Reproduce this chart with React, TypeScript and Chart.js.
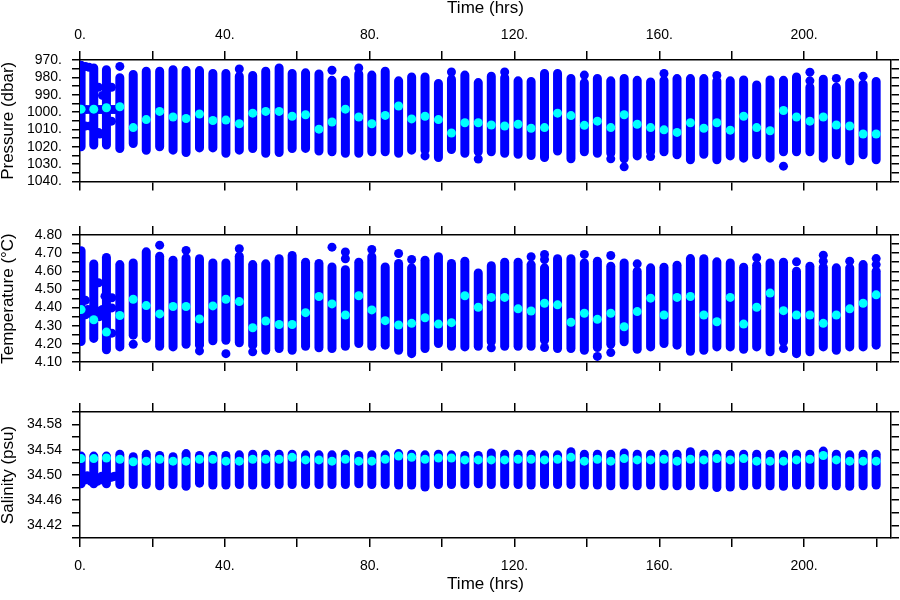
import React, { useEffect, useRef } from "react";
import { Chart, registerables } from "chart.js";

Chart.register(...registerables);

const FONT = "'Liberation Sans', Arial, sans-serif";
const BLUE = "#0000FF";
const CYAN = "#00FFFF";

// ---- time axis ----
const xMax = 224;
const xTicks = [0, 20, 40, 60, 80, 100, 120, 140, 160, 180, 200, 220];
const xTickLabels = [0, 40, 80, 120, 160, 200];

// profile times (hrs)
const times = [
  0.3, 3.8, 7.3,
  11.0, 14.7, 18.3, 22.0, 25.7, 29.3, 33.0, 36.7, 40.3, 44.0,
  47.7, 51.3, 55.0, 58.6, 62.3, 66.0, 69.6, 73.3, 77.0, 80.6,
  84.3, 88.0, 91.6, 95.3, 99.0, 102.6, 106.3, 110.0, 113.6, 117.3,
  121.0, 124.6, 128.3, 131.9, 135.6, 139.3, 142.9, 146.6, 150.3, 153.9,
  157.6, 161.3, 164.9, 168.6, 172.3, 175.9, 179.6, 183.3, 186.9, 190.6,
  194.3, 197.9, 201.6, 205.3, 208.9, 212.6, 216.3, 219.9,
];

// ---- pressure (dbar) ----
const pressureTicks = [970, 975, 980, 985, 990, 995, 1000, 1005, 1010, 1015, 1020, 1025, 1030, 1035, 1040];
const pressureTickLabels = [970, 980, 990, 1000, 1010, 1020, 1030, 1040];
const pressureTop = [
  973.0, 974.6, 975.6,
  980.2, 978.3, 976.5, 976.5, 975.6, 976.1, 976.1, 977.8, 977.8, 979.3,
  978.9, 976.5, 974.6, 977.8, 977.4, 978.0, 981.7, 981.7, 978.0, 978.7,
  976.5, 982.0, 979.8, 979.8, 983.5, 981.1, 978.7, 983.0, 979.3, 980.2,
  982.0, 982.4, 977.8, 977.8, 980.6, 983.1, 980.6, 982.0, 980.6, 981.7,
  982.6, 981.7, 980.7, 980.7, 980.7, 982.0, 982.0, 981.5, 984.4, 981.5,
  981.7, 979.8, 985.7, 981.1, 985.7, 983.0, 983.9, 982.4,
];
const pressureBottom = [
  1020.0, 1019.0, 1019.0,
  1021.0, 1018.1, 1022.0, 1020.0, 1021.9, 1023.3, 1020.6, 1020.6, 1023.7, 1021.9,
  1021.0, 1023.7, 1023.3, 1021.0, 1020.9, 1022.4, 1022.8, 1023.7, 1023.7, 1022.8,
  1022.8, 1023.7, 1021.9, 1021.9, 1026.1, 1021.5, 1023.7, 1022.8, 1022.8, 1023.7,
  1024.3, 1025.0, 1026.1, 1022.4, 1026.9, 1022.8, 1023.7, 1023.7, 1026.9, 1025.2,
  1022.8, 1022.8, 1024.6, 1027.4, 1024.3, 1027.4, 1025.2, 1026.5, 1024.6, 1026.5,
  1022.8, 1022.8, 1022.8, 1026.5, 1024.6, 1028.0, 1024.6, 1027.4,
];
const pressureMean = [
  998.3, 998.3, 997.5,
  996.9, 1008.9, 1004.3, 999.6, 1002.8, 1003.7, 1001.1, 1004.8, 1004.6, 1006.7,
  1000.6, 999.6, 999.6, 1002.4, 1001.5, 1009.8, 1005.7, 998.3, 1002.8, 1006.7,
  1001.9, 996.5, 1003.9, 1002.4, 1004.3, 1012.0, 1006.1, 1006.1, 1007.4, 1008.0,
  1007.0, 1009.3, 1008.9, 1000.6, 1002.0, 1007.6, 1005.2, 1008.9, 1001.5, 1007.0,
  1008.9, 1010.2, 1011.7, 1006.1, 1009.3, 1006.1, 1010.4, 1002.4, 1008.9, 1010.7,
  999.1, 1002.8, 1005.2, 1002.8, 1007.4, 1008.0, 1012.6, 1012.6,
];
const pressureExtraTimes = [
  1.5, 2.5, 5.1, 6.2, 1.8, 2.8, 5.2, 6.0, 8.8, 9.6, 1.5, 2.8, 5.1, 5.5, 8.7, 8.7,
  11.0, 44.0, 69.6, 77.0, 95.3, 102.6, 110.0, 117.3, 139.3, 146.6, 150.3, 157.6,
  161.3, 175.9, 194.3, 201.6, 201.6, 208.9, 216.3,
];
const pressureExtraValues = [
  973.7, 974.2, 985.7, 990.4, 998.5, 998.5, 998.5, 998.5, 998.5, 998.5, 1008.0, 1008.0, 1011.7, 1012.6, 985.7, 1005.2,
  973.7, 975.2, 975.9, 974.6, 1025.2, 976.9, 1027.0, 976.9, 978.7, 1026.9, 1031.5, 1025.6,
  977.8, 978.9, 1031.1, 977.0, 982.0, 980.6, 979.3,
];

// ---- temperature (°C) ----
const temperatureTicks = [4.1, 4.15, 4.2, 4.25, 4.3, 4.35, 4.4, 4.45, 4.5, 4.55, 4.6, 4.65, 4.7, 4.75, 4.8];
const temperatureTickLabels = [4.1, 4.2, 4.3, 4.4, 4.5, 4.6, 4.7, 4.8];
const temperatureTop = [
  4.713, 4.640, 4.676,
  4.637, 4.646, 4.707, 4.683, 4.661, 4.674, 4.669, 4.646, 4.646, 4.683,
  4.637, 4.641, 4.669, 4.687, 4.650, 4.643, 4.624, 4.609, 4.650, 4.680,
  4.624, 4.643, 4.619, 4.661, 4.680, 4.643, 4.656, 4.591, 4.631, 4.650,
  4.650, 4.637, 4.619, 4.669, 4.669, 4.646, 4.656, 4.628, 4.646, 4.600,
  4.619, 4.622, 4.633, 4.670, 4.669, 4.652, 4.646, 4.622, 4.633, 4.646,
  4.650, 4.600, 4.628, 4.622, 4.619, 4.619, 4.637, 4.600,
];
const temperatureBottom = [
  4.213, 4.230, 4.167,
  4.183, 4.248, 4.230, 4.187, 4.183, 4.198, 4.193, 4.217, 4.220, 4.206,
  4.193, 4.165, 4.174, 4.165, 4.187, 4.178, 4.174, 4.187, 4.202, 4.187,
  4.193, 4.165, 4.146, 4.174, 4.202, 4.187, 4.183, 4.187, 4.211, 4.187,
  4.187, 4.187, 4.220, 4.174, 4.174, 4.165, 4.180, 4.198, 4.211, 4.170,
  4.183, 4.202, 4.193, 4.159, 4.165, 4.183, 4.183, 4.170, 4.183, 4.156,
  4.211, 4.146, 4.156, 4.183, 4.165, 4.183, 4.183, 4.193,
];
const temperatureMean = [
  4.389, 4.333, 4.265,
  4.356, 4.446, 4.411, 4.365, 4.406, 4.406, 4.337, 4.409, 4.446, 4.433,
  4.289, 4.326, 4.307, 4.307, 4.372, 4.461, 4.420, 4.359, 4.465, 4.387,
  4.328, 4.304, 4.313, 4.344, 4.309, 4.317, 4.465, 4.402, 4.456, 4.456,
  4.393, 4.381, 4.424, 4.415, 4.319, 4.369, 4.335, 4.369, 4.294, 4.378,
  4.452, 4.359, 4.456, 4.461, 4.359, 4.322, 4.456, 4.309, 4.402, 4.480,
  4.383, 4.359, 4.359, 4.313, 4.359, 4.393, 4.424, 4.470,
];
const temperatureExtraTimes = [
  1.5, 1.5, 2.2, 2.8, 4.8, 5.4, 5.4, 5.1, 6.9, 6.2, 8.8, 8.8, 8.8,
  14.7, 22.0, 29.3, 33.0, 40.3, 44.0, 47.7, 69.6, 73.3, 73.3, 80.6, 88.0, 91.6,
  113.6, 124.6, 128.3, 128.3, 128.3, 139.3, 142.9, 146.6, 146.6, 153.9,
  186.9, 194.3, 197.9, 205.3, 205.3, 212.6, 219.9, 219.9,
];
const temperatureExtraValues = [
  4.440, 4.360, 4.389, 4.370, 4.380, 4.380, 4.350, 4.537, 4.463, 4.390, 4.454, 4.398, 4.259,
  4.198, 4.744, 4.715, 4.161, 4.146, 4.724, 4.156, 4.733, 4.706, 4.669, 4.720, 4.698, 4.665,
  4.178, 4.680, 4.693, 4.665, 4.180, 4.693, 4.131, 4.687, 4.152, 4.641,
  4.674, 4.174, 4.652, 4.689, 4.656, 4.656, 4.670, 4.637,
];

// ---- salinity (psu) ----
const salinityTicks = [34.4, 34.42, 34.44, 34.46, 34.48, 34.5, 34.52, 34.54, 34.56, 34.58, 34.6];
const salinityTickLabels = [34.42, 34.46, 34.5, 34.54, 34.58];
const salinityTop = [
  34.530, 34.530, 34.530,
  34.533, 34.529, 34.533, 34.531, 34.529, 34.534, 34.531, 34.531, 34.531, 34.532,
  34.533, 34.533, 34.533, 34.533, 34.532, 34.532, 34.532, 34.533, 34.531, 34.532,
  34.532, 34.534, 34.533, 34.532, 34.533, 34.532, 34.531, 34.531, 34.535, 34.533,
  34.533, 34.533, 34.532, 34.532, 34.537, 34.533, 34.533, 34.533, 34.535, 34.533,
  34.533, 34.533, 34.533, 34.537, 34.533, 34.533, 34.533, 34.533, 34.533, 34.533,
  34.532, 34.533, 34.533, 34.538, 34.533, 34.532, 34.533, 34.533,
];
const salinityBottom = [
  34.486, 34.486, 34.486,
  34.485, 34.485, 34.485, 34.483, 34.485, 34.482, 34.487, 34.484, 34.484, 34.485,
  34.484, 34.485, 34.485, 34.485, 34.485, 34.485, 34.485, 34.485, 34.486, 34.485,
  34.485, 34.484, 34.484, 34.481, 34.485, 34.485, 34.485, 34.486, 34.485, 34.485,
  34.485, 34.484, 34.485, 34.485, 34.485, 34.484, 34.484, 34.483, 34.484, 34.483,
  34.484, 34.483, 34.483, 34.483, 34.484, 34.480, 34.481, 34.483, 34.484, 34.483,
  34.482, 34.484, 34.484, 34.484, 34.483, 34.482, 34.483, 34.484,
];
const salinityMean = [
  34.526, 34.526, 34.527,
  34.525, 34.521, 34.522, 34.525, 34.522, 34.522, 34.525, 34.525, 34.522, 34.522,
  34.525, 34.525, 34.525, 34.528, 34.524, 34.524, 34.522, 34.525, 34.522, 34.522,
  34.525, 34.530, 34.528, 34.525, 34.527, 34.527, 34.524, 34.524, 34.524, 34.524,
  34.525, 34.525, 34.524, 34.525, 34.528, 34.522, 34.525, 34.522, 34.526, 34.524,
  34.524, 34.525, 34.522, 34.525, 34.524, 34.526, 34.524, 34.526, 34.522, 34.522,
  34.522, 34.524, 34.525, 34.531, 34.524, 34.522, 34.522, 34.522,
];
const salinityExtraTimes = [1.0, 1.3, 2.0, 2.3, 3.0, 4.3, 4.8, 5.5, 6.0, 6.3, 8.3, 9.0, 9.6];
const salinityExtraValues = [
  34.497, 34.492, 34.499, 34.494, 34.490, 34.497, 34.490, 34.494, 34.498, 34.492, 34.496, 34.497, 34.498,
];

type AxisEdge = { height: number; labels: boolean; title: boolean; pad: number };

type PanelProps = {
  top: number;
  height: number;
  xTop: AxisEdge;
  xBottom: AxisEdge;
  yMin: number;
  yMax: number;
  reverse: boolean;
  yTicks: number[];
  yTickLabels: number[];
  format: (v: number) => string;
  yTitle: string;
  lows: number[];
  highs: number[];
  means: number[];
  extraTimes: number[];
  extraValues: number[];
};

const near = (list: number[], v: number) => list.some((l) => Math.abs(l - v) < 1e-6);

function Panel(p: PanelProps) {
  const ref = useRef<HTMLCanvasElement | null>(null);
  useEffect(() => {
    if (!ref.current) return;
    const tickFont = { family: FONT, size: 14, lineHeight: 1.2 };
    const titleFont = { family: FONT, size: 17, lineHeight: 1 };
    const grid = (len: number) => ({
      drawOnChartArea: false,
      drawTicks: true,
      tickLength: len,
      color: "#000",
      lineWidth: 1.5,
    });
    const border = { display: true, color: "#000", width: 1.5 };
    const setTicks = (vals: number[]) => (scale: any) => {
      scale.ticks = vals.map((v) => ({ value: v }));
    };
    const xAxis = (position: "top" | "bottom", e: AxisEdge) => ({
      type: "linear",
      position,
      min: 0,
      max: xMax,
      afterBuildTicks: setTicks(xTicks),
      afterFit: (s: any) => {
        s.height = e.height;
      },
      ticks: {
        display: e.labels,
        autoSkip: false,
        maxRotation: 0,
        padding: e.pad,
        color: "#000",
        font: tickFont,
        callback: (v: number) => (near(xTickLabels, v) ? `${v}.` : ""),
      },
      grid: grid(9),
      border,
      title: {
        display: e.title,
        text: "Time (hrs)",
        color: "#000",
        font: titleFont,
        padding: position === "top" ? { top: 0, bottom: 0 } : { top: 0, bottom: 7 },
      },
    });
    const yAxis = (position: "left" | "right") => ({
      type: "linear",
      position,
      min: p.yMin,
      max: p.yMax,
      reverse: p.reverse,
      afterBuildTicks: setTicks(p.yTicks),
      afterFit: (s: any) => {
        s.width = position === "left" ? 80 : 9;
      },
      ticks: {
        display: position === "left",
        autoSkip: false,
        padding: 10,
        color: "#000",
        font: tickFont,
        callback: (v: number) => (near(p.yTickLabels, v) ? p.format(v) : ""),
      },
      grid: grid(8),
      border,
      title: {
        display: position === "left",
        text: p.yTitle,
        color: "#000",
        font: titleFont,
        padding: 0,
      },
    });

    const columns = times.map((t, i) => ({
      data: [
        { x: t, y: p.lows[i] },
        { x: t, y: p.highs[i] },
      ],
      showLine: true,
      borderColor: BLUE,
      borderWidth: 9,
      borderCapStyle: "round",
      pointRadius: 0,
      pointHoverRadius: 0,
      order: 2,
      clip: 0,
    }));

    const chart = new Chart(ref.current, {
      type: "scatter",
      data: {
        datasets: [
          {
            data: times.map((t, i) => ({ x: t, y: p.means[i] })),
            pointRadius: 4.5,
            pointBackgroundColor: CYAN,
            pointBorderWidth: 0,
            showLine: false,
            order: 0,
            clip: 0,
          },
          {
            data: p.extraTimes.map((t, i) => ({ x: t, y: p.extraValues[i] })),
            pointRadius: 4.5,
            pointBackgroundColor: BLUE,
            pointBorderWidth: 0,
            showLine: false,
            order: 1,
            clip: 0,
          },
          ...columns,
        ] as any,
      },
      options: {
        animation: false,
        responsive: false,
        maintainAspectRatio: false,
        events: [],
        layout: { padding: 0 },
        plugins: { legend: { display: false }, tooltip: { enabled: false } },
        scales: {
          xTop: xAxis("top", p.xTop),
          x: xAxis("bottom", p.xBottom),
          y: yAxis("left"),
          yRight: yAxis("right"),
        } as any,
      },
    } as any);
    return () => chart.destroy();
  }, []);
  return (
    <canvas
      ref={ref}
      width={900}
      height={p.height}
      style={{ position: "absolute", left: 0, top: p.top, display: "block" }}
    />
  );
}

export default function App() {
  return (
    <div style={{ position: "absolute", left: 0, top: 0, width: 900, height: 600, background: "#fff" }}>
      <Panel
        top={0}
        height={200}
        xTop={{ height: 60, labels: true, title: true, pad: 7 }}
        xBottom={{ height: 14, labels: false, title: false, pad: 0 }}
        yMin={970}
        yMax={1040}
        reverse={true}
        yTicks={pressureTicks}
        yTickLabels={pressureTickLabels}
        format={(v) => `${v}.`}
        yTitle="Pressure (dbar)"
        lows={pressureTop}
        highs={pressureBottom}
        means={pressureMean}
        extraTimes={pressureExtraTimes}
        extraValues={pressureExtraValues}
      />
      <Panel
        top={200}
        height={190}
        xTop={{ height: 35, labels: false, title: false, pad: 0 }}
        xBottom={{ height: 28, labels: false, title: false, pad: 0 }}
        yMin={4.1}
        yMax={4.8}
        reverse={false}
        yTicks={temperatureTicks}
        yTickLabels={temperatureTickLabels}
        format={(v) => v.toFixed(2)}
        yTitle="Temperature (°C)"
        lows={temperatureBottom}
        highs={temperatureTop}
        means={temperatureMean}
        extraTimes={temperatureExtraTimes}
        extraValues={temperatureExtraValues}
      />
      <Panel
        top={390}
        height={210}
        xTop={{ height: 22, labels: false, title: false, pad: 0 }}
        xBottom={{ height: 62, labels: true, title: true, pad: 11 }}
        yMin={34.4}
        yMax={34.6}
        reverse={false}
        yTicks={salinityTicks}
        yTickLabels={salinityTickLabels}
        format={(v) => v.toFixed(2)}
        yTitle="Salinity (psu)"
        lows={salinityBottom}
        highs={salinityTop}
        means={salinityMean}
        extraTimes={salinityExtraTimes}
        extraValues={salinityExtraValues}
      />
    </div>
  );
}
